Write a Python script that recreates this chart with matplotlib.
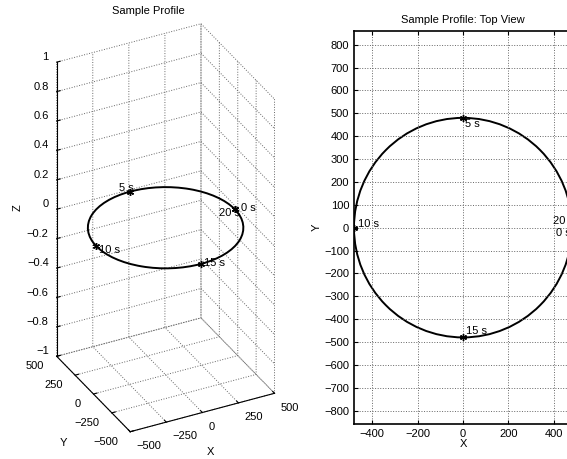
import numpy as np
import matplotlib.pyplot as plt
from matplotlib.patches import Circle
import mpl_toolkits.mplot3d.art3d as art3d

plt.rcParams['font.family'] = ['Liberation Sans', 'DejaVu Sans']
plt.rcParams['font.size'] = 8

# path: circle in the XY plane, radius 480, z = 0
radius = 480
center_x, center_y, center_z = 0, 0, 0

# time markers
marker_t = ['0 s', '5 s', '10 s', '15 s', '20 s']
marker_x = [480, 0, -480, 0, 480]
marker_y = [0, 480, 0, -480, 0]
marker_z = [0, 0, 0, 0, 0]

# label anchors (3D view and top view)
lab3_x = [520, -30, -465, 24, 515]
lab3_y = [0, 480, 0, -480, 0]
lab3_z = [0, 0.035, -0.03, 0, -0.035]
lab3_ha = ['left', 'center', 'left', 'left', 'right']

lab2_x = [409, 10, -462, 15, 396]
lab2_y = [-23, 455, 18, -454, 30]

xy_ticks3 = [-500, -250, 0, 250, 500]
z_ticks3 = [-1, -0.8, -0.6, -0.4, -0.2, 0, 0.2, 0.4, 0.6, 0.8, 1]
x_ticks2 = [-400, -200, 0, 200, 400]
y_ticks2 = list(range(-800, 801, 100))

asterisk = (6, 2, 0)


def fmt(v):
    return ('%g' % v).replace('-', '\u2212')


fig = plt.figure(figsize=(5.67, 4.59), dpi=100)

# ---- left: 3D view
ax = fig.add_axes([0.0045, -0.0055, 0.56, 1.0], projection='3d')
ax.set_proj_type('ortho')
ax.view_init(elev=31.5, azim=-117)
ax.set_box_aspect((1, 1, 2.13), zoom=1.266)

ring = Circle((center_x, center_y), radius, fill=False, edgecolor='k', linewidth=1.4)
ax.add_patch(ring)
art3d.pathpatch_2d_to_3d(ring, z=center_z, zdir='z')
ax.plot(marker_x, marker_y, marker_z, linestyle='none', marker=asterisk,
        color='k', markersize=5)
for s, x, y, z, ha in zip(marker_t, lab3_x, lab3_y, lab3_z, lab3_ha):
    ax.text(x, y, z, s, ha=ha, va='center', fontsize=8)

ax.set_xlim(-500, 500)
ax.set_ylim(-500, 500)
ax.set_zlim(-1, 1)
ax.set_xticks(xy_ticks3)
ax.set_yticks(xy_ticks3)
ax.set_zticks(z_ticks3)
ax.xaxis.set_tick_params(labelbottom=False)
ax.yaxis.set_tick_params(labelleft=False)
ax.zaxis.set_tick_params(labelbottom=False)
for axis in (ax.xaxis, ax.yaxis, ax.zaxis):
    axis.set_pane_color((1, 1, 1, 0))
    axis.pane.set_edgecolor('none')
    axis.line.set_color('k')
    axis._axinfo['grid'].update(color='0.4', linestyle=':', linewidth=0.7)
    axis._axinfo['tick'].update(inward_factor=0.0, outward_factor=0.3)

# tick labels placed next to the axis lines, MATLAB style
for v in xy_ticks3:
    ax.text(v, -580, -1.056, fmt(v), ha='left', va='center', fontsize=8)
    ax.text(-586, v, -1.045, fmt(v), ha='right', va='center', fontsize=8)
for v in z_ticks3:
    ax.text(-555, 500, v + 0.048, fmt(v), ha='right', va='center', fontsize=8)

fig.text(148 / 567, 1 - 11 / 459, 'Sample Profile', ha='center', va='center', fontsize=8)
fig.text(18 / 567, 1 - 208 / 459, 'Z', ha='center', va='center', rotation=90, fontsize=8)
fig.text(63 / 567, 1 - 443 / 459, 'Y', ha='center', va='center', fontsize=8)
fig.text(210 / 567, 1 - 452 / 459, 'X', ha='center', va='center', fontsize=8)

# ---- right: top view
ax2 = fig.add_axes([0.6243, 0.0756, 0.3845, 0.8569])
ring2 = Circle((center_x, center_y), radius, fill=False, edgecolor='k', linewidth=1.4)
ax2.add_patch(ring2)
ax2.plot(marker_x, marker_y, linestyle='none', marker=asterisk, color='k', markersize=5)
for s, x, y in zip(marker_t, lab2_x, lab2_y):
    ax2.text(x, y, s, ha='left', va='center', fontsize=8)
ax2.set_xlim(-480, 480)
ax2.set_ylim(-860, 860)
ax2.set_xticks(x_ticks2)
ax2.set_yticks(y_ticks2)
ax2.grid(True, color='0.4', linestyle=':', linewidth=0.7)
ax2.tick_params(direction='in', top=True, right=True, length=3, labelsize=8)
for sp in ax2.spines.values():
    sp.set_linewidth(1.2)
ax2.set_xlabel('X', labelpad=0)
ax2.set_ylabel('Y', labelpad=2)
ax2.set_title('Sample Profile: Top View', fontsize=8, pad=6)

fig.savefig('out.png', dpi=100)
